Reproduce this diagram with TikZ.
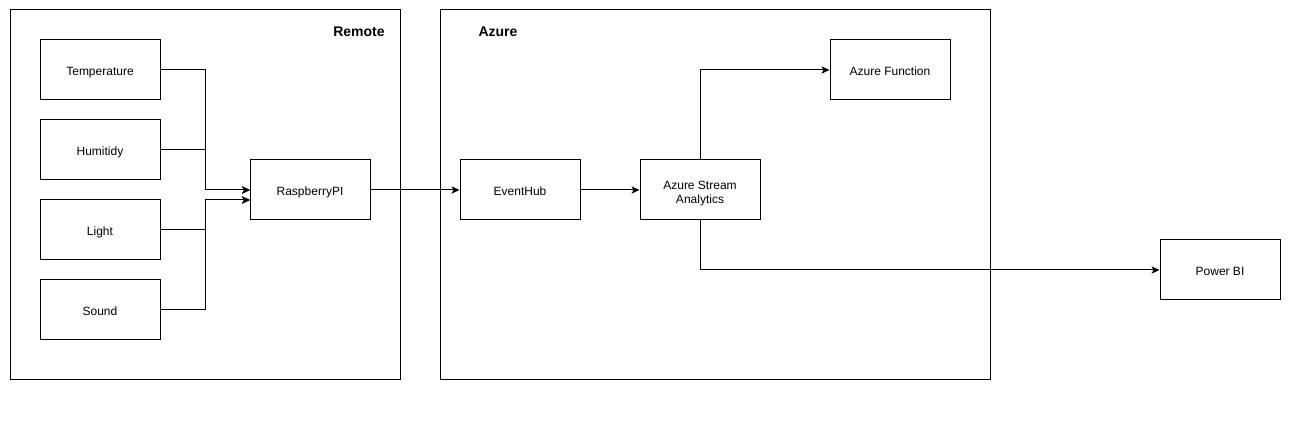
\documentclass[tikz,border=0pt]{standalone}
\usepackage{fontspec}
\setmainfont{Liberation Sans}
\usetikzlibrary{arrows.meta}
\begin{document}
\begin{tikzpicture}[x=0.75pt,y=-0.75pt,
  box/.style={draw,line width=0.75pt,minimum width=90pt,minimum height=45pt,inner sep=0pt,align=center,text height=9.5pt,text depth=0.6pt,font=\fontsize{9}{10.5}\selectfont},
  txt/.style={inner sep=0pt,align=center,font=\fontsize{9}{10.5}\selectfont},
  lbl/.style={font=\fontsize{10.5}{12}\selectfont\bfseries},
  conn/.style={line width=0.75pt,-{Stealth[length=6pt,width=5.5pt,inset=1.5pt]}}]
\useasboundingbox (0,0) rectangle (1290,434);
\node[draw,line width=0.75pt,minimum width=292.5pt,minimum height=277.5pt,inner sep=0pt] (remote) at (205,195) {};
\node[draw,line width=0.75pt,minimum width=412.5pt,minimum height=277.5pt,inner sep=0pt] (azure) at (715,195) {};
\node[lbl] (remotelbl) at (359,32) {Remote};
\node[lbl] (azurelbl) at (498,32) {Azure};
\node[box] (temp) at (100,70) {Temperature};
\node[box] (hum) at (100,150) {Humitidy};
\node[box] (light) at (100,230) {Light};
\node[box] (sound) at (100,310) {Sound};
\node[box] (rpi) at (310,190) {RaspberryPI};
\node[box] (eh) at (520,190) {EventHub};
\node[box] (asa) at (700,190) {};
\node[txt,text height=6.5pt,text depth=0pt] (asatext) at (700,199) {Azure Stream\\Analytics};
\node[box] (af) at (890,70) {Azure Function};
\node[box] (pbi) at (1220,270) {Power BI};
\coordinate (in1) at (250,190);
\coordinate (in2) at (250,200);
\draw[conn] (temp.east) -- (205,70) |- (in1);
\draw[conn] (hum.east) -- (205,150) |- (in1);
\draw[conn] (light.east) -- (205,230) |- (in2);
\draw[conn] (sound.east) -- (205,310) |- (in2);
\draw[conn] (rpi.east) -- (eh.west);
\draw[conn] (eh.east) -- (asa.west);
\draw[conn] (asa.north) |- (af.west);
\draw[conn] (asa.south) |- (pbi.west);
\end{tikzpicture}
\end{document}
